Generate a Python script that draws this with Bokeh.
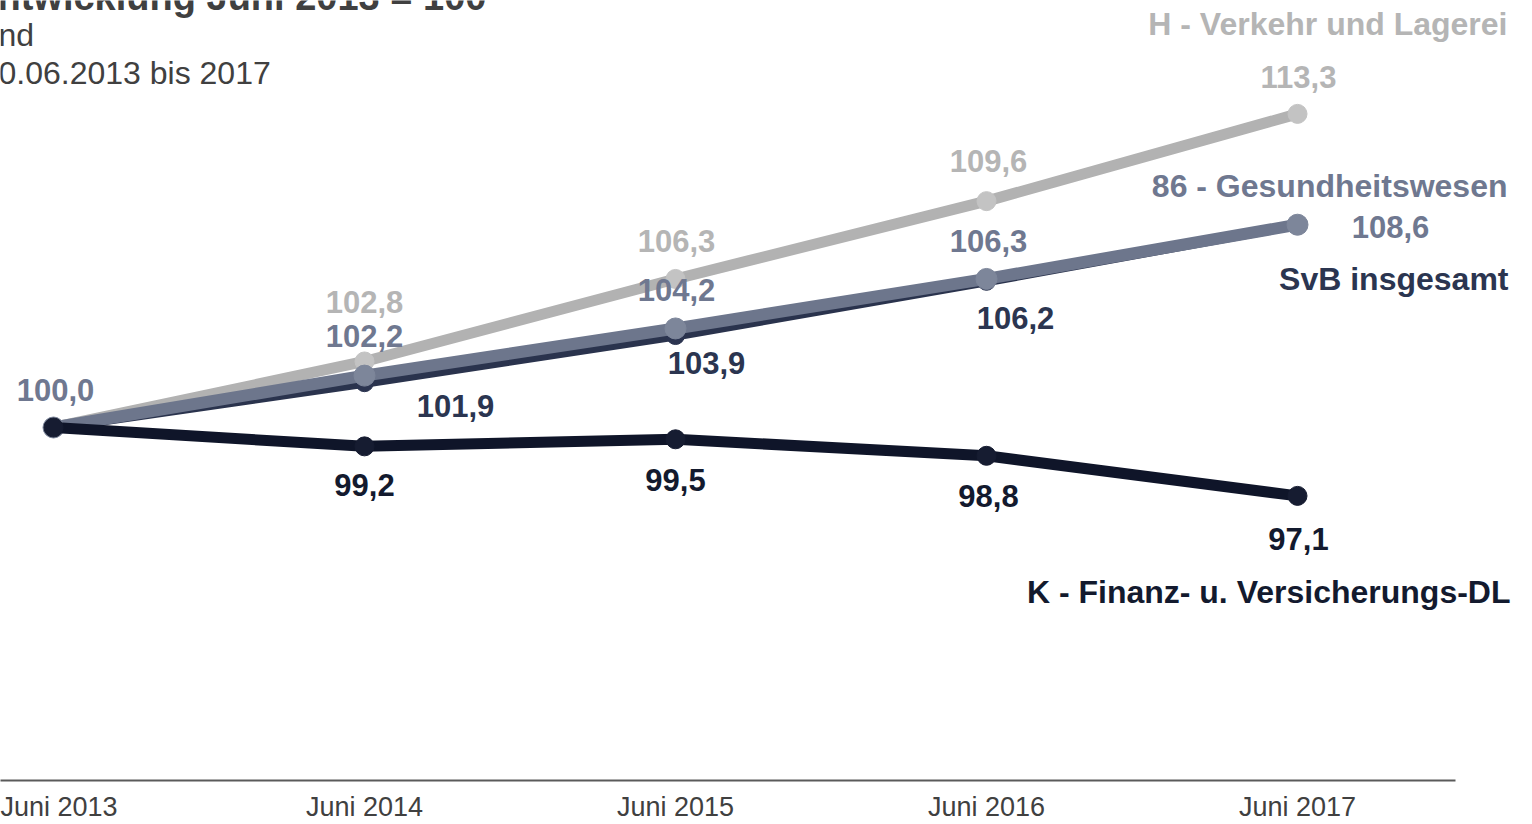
from bokeh.plotting import figure
from bokeh.models import ColumnDataSource, Range1d, FixedTicker
from bokeh.core.properties import value
from bokeh.embed import file_html
from bokeh.resources import INLINE

# ---------------- data ----------------
periods = ["Juni 2013", "Juni 2014", "Juni 2015", "Juni 2016", "Juni 2017"]
verkehr_lagerei = [100.0, 102.8, 106.3, 109.6, 113.3]
svb_insgesamt = [100.0, 101.9, 103.9, 106.2, 108.6]
gesundheitswesen = [100.0, 102.2, 104.2, 106.3, 108.6]
finanz_versicherung = [100.0, 99.2, 99.5, 98.8, 97.1]

name_verkehr = "H - Verkehr und Lagerei"
name_gesund = "86 - Gesundheitswesen"
name_svb = "SvB insgesamt"
name_finanz = "K - Finanz- u. Versicherungs-DL"

title_text = "ntwicklung Juni 2013 = 100"
subtitle_lines = ["nd", "0.06.2013 bis 2017"]

# ---------------- layout ----------------
W, H = 1532, 824
FRAME_H = 780
X0, DX = 53.0, 311.0      # pixel of first period, spacing
Y100, PXU = 427.0, 23.58  # pixel of value 100, pixels per unit

x_start = -X0 / DX
x_end = (W - X0) / DX
y_end = 100 + Y100 / PXU
y_start = 100 - (FRAME_H - Y100) / PXU


def xdata(px):
    return (px - X0) / DX


def ydata(py):
    return y_end - py / PXU


FONT = "Liberation Sans"

p = figure(width=W, height=H, x_range=Range1d(x_start, x_end),
           y_range=Range1d(y_start, y_end), output_backend="svg",
           toolbar_location=None, y_axis_location=None, min_border=0,
           min_border_bottom=H - FRAME_H)
p.xgrid.visible = False
p.ygrid.visible = False
p.outline_line_color = None
p.background_fill_color = "white"
p.border_fill_color = "white"

ax = p.xaxis[0]
ax.ticker = FixedTicker(ticks=list(range(len(periods))))
ax.major_label_overrides = {i: s for i, s in enumerate(periods)}
ax.major_tick_line_color = None
ax.major_tick_out = 0
ax.major_tick_in = 0
ax.minor_tick_line_color = None
ax.minor_tick_out = 0
ax.minor_tick_in = 0
ax.axis_line_color = "#5a5a5a"
ax.axis_line_width = 2
ax.major_label_text_font = FONT
ax.major_label_text_font_size = "27px"
ax.major_label_text_color = "#404040"
ax.major_label_standoff = 11
ax.bounds = (x_start, xdata(1455))

xs = list(range(len(periods)))

series = [
    # values, line colour, marker colour, line width, marker size
    (verkehr_lagerei, "#b2b2b2", "#c3c3c3", 11, 19),
    (svb_insgesamt, "#2a334d", "#2b3450", 10, 18),
    (gesundheitswesen, "#6d768c", "#7d869a", 12, 21),
    (finanz_versicherung, "#0f1529", "#161c31", 11, 19),
]
for vals, lc, mc, lw, ms in series:
    p.line(xs, vals, line_color=lc, line_width=lw, line_join="round")
    p.scatter(xs, vals, size=ms, fill_color=mc, line_color=mc)

# value labels: (series, colour, per-point pixel offsets)
lab_specs = [
    (verkehr_lagerei, "#b5b5b5", [None, (0, -59), (1, -38), (2, -40), (1, -37)]),
    (gesundheitswesen, "#6f7890", [(2, -38), (0, -40), (1, -38), (2, -38), (93, 2)]),
    (svb_insgesamt, "#2b3550", [None, (91, 23), (31, 27), (29, 37), None]),
    (finanz_versicherung, "#131a2e", [None, (0, 39), (0, 41), (2, 40), (1, 43)]),
]
lx, ly, lt, lxo, lyo, lc = [], [], [], [], [], []
for vals, col, offs in lab_specs:
    for i, off in enumerate(offs):
        if off is None:
            continue
        lx.append(xs[i]); ly.append(vals[i])
        lt.append(f"{vals[i]:.1f}".replace(".", ","))
        lxo.append(off[0]); lyo.append(off[1]); lc.append(col)
src = ColumnDataSource(dict(x=lx, y=ly, text=lt, xo=lxo, yo=lyo, c=lc))
p.text(x="x", y="y", text="text", x_offset="xo", y_offset="yo",
       text_color="c", text_font=value(FONT), text_font_style="bold",
       text_font_size="31px", text_align="center", text_baseline="middle",
       source=src)

# series names, anchored to the last point
last = len(periods) - 1
name_specs = [
    (name_verkehr, verkehr_lagerei, "#b5b5b5", 210, -90),
    (name_gesund, gesundheitswesen, "#6f7890", 210, -39),
    (name_svb, svb_insgesamt, "#2b3550", 211, 54),
    (name_finanz, finanz_versicherung, "#131a2e", 213, 96),
]
nsrc = ColumnDataSource(dict(
    x=[xs[last]] * len(name_specs),
    y=[s[1][last] for s in name_specs],
    text=[s[0] for s in name_specs],
    xo=[s[3] for s in name_specs],
    yo=[s[4] for s in name_specs],
    c=[s[2] for s in name_specs]))
p.text(x="x", y="y", text="text", x_offset="xo", y_offset="yo",
       text_color="c", text_font=value(FONT), text_font_style="bold",
       text_font_size="32px", text_align="right", text_baseline="middle",
       source=nsrc)

# cut-off title block at the top left
p.text(x=[xdata(-3)], y=[ydata(-4)], text=[title_text], text_color="#404040",
       text_font=value(FONT), text_font_style="bold", text_font_size="38px",
       text_align="left", text_baseline="middle")
p.text(x=[xdata(-2)] * 2, y=[ydata(34), ydata(72)], text=subtitle_lines,
       text_color="#404040", text_font=value(FONT), text_font_size="32px",
       text_align="left", text_baseline="middle")

open("out.html", "w").write(file_html(p, INLINE))
